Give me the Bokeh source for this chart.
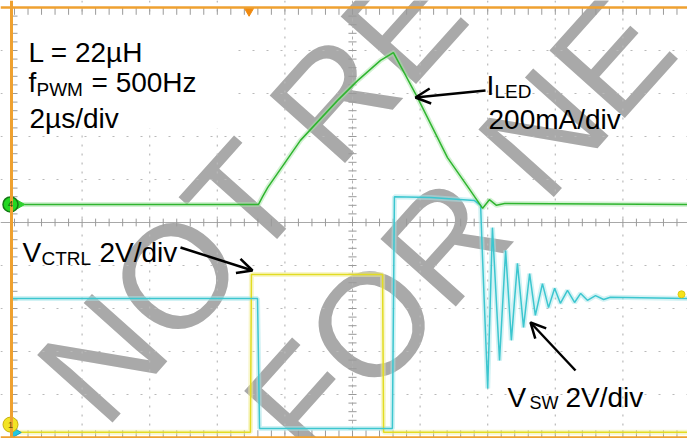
import numpy as np
from bokeh.plotting import figure
from bokeh.models import Label, Arrow, OpenHead, Span, BoxAnnotation
from bokeh.embed import file_html
from bokeh.resources import INLINE

# ---------------- data (time in µs, 2 µs/div; vertical in screen divisions) ----------------
led_t = [-10.1, -2.78, -2.66, -2.51, -1.54, -0.44, 0.15, 0.83, 1.21, 1.92, 2.81, 3.49,
         3.85, 4.05, 4.26, 4.50, 10.0]
led_y = [0.42, 0.42, 0.60, 0.81, 1.91, 2.84, 3.30, 3.77, 3.95, 2.91, 1.51, 0.74,
         0.33, 0.53, 0.40, 0.44, 0.42]

sw_t = [-10.1, -2.81, -2.75, 1.18, 1.24, 2.31, 3.61, 3.79, 3.85, 4.00, 4.14, 4.35, 4.53,
        4.70, 4.88, 5.06, 5.24, 5.41, 5.62, 5.80, 5.98, 6.15, 6.36, 6.57, 6.75, 6.95,
        7.19, 7.43, 7.63, 10.0]
sw_y = [-1.77, -1.77, -4.79, -4.79, 0.60, 0.58, 0.51, 0.40, -0.88, -3.86, -0.12, -3.21, -0.65,
        -2.74, -0.95, -2.44, -1.19, -2.16, -1.42, -1.98, -1.53, -1.88, -1.58, -1.86, -1.65, -1.81,
        -1.70, -1.79, -1.74, -1.77]

ctrl_t = [-10.1, -3.02, -2.99, 0.89, 0.92, 10.0]
ctrl_y = [-4.88, -4.88, -1.21, -1.21, -4.88, -4.88]

# channel ground markers (level in divisions) and trigger settings
led_marker_level = [0.42]
ctrl_marker_level = [-4.70]
trigger_time = [-3.06]
trigger_level = [-1.67]

major_t = [-8, -6, -4, -2, 2, 4, 6, 8]
major_y = [-4, -3, -2, -1, 1, 2, 3, 4]


# helpers: reference-pixel position -> data coordinates (for annotations only)
def tx(px):
    return (px - 352) / 33.8


def ty(py):
    return (222 - py) / 43.0


FONT = "Liberation Sans"
GREEN = "#2fb52f"
CYAN = "#3cc6cf"
YELLOW = "#e2dc22"
ORANGE = "#efa130"
GRID = "#b9b9b9"

p = figure(width=687, height=438, x_range=(tx(0), tx(687)), y_range=(ty(438), ty(0)),
           output_backend="svg", toolbar_location=None,
           x_axis_location=None, y_axis_location=None, min_border=0,
           background_fill_color="white", border_fill_color="white",
           outline_line_color=None)
p.xgrid.visible = False
p.ygrid.visible = False

# watermark
for txt, ax, ay in [("NOT RE", 66, 397), ("FOR NE", 273, 433)]:
    p.add_layout(Label(x=tx(ax), y=ty(ay), text=txt, angle=0.84, angle_units="rad",
                       text_font=FONT, text_font_style="normal", text_font_size="147px",
                       text_color="#a9a9a9", text_align="left", text_baseline="alphabetic",
                       level="underlay"))

# dotted graticule
for yv in major_y:
    p.add_layout(Span(location=yv, dimension="width", line_color=GRID, line_width=1.2,
                      line_dash="2 12", level="underlay"))
for tv in major_t:
    p.add_layout(Span(location=tv, dimension="height", line_color=GRID, line_width=1.2,
                      line_dash="2 7", level="underlay"))

# centre cross
p.add_layout(Span(location=0, dimension="width", line_color="#a8a8a8", line_width=1,
                  level="underlay"))
p.add_layout(Span(location=0, dimension="height", line_color="#b0b0b0", line_width=1,
                  line_dash="3 3", level="underlay"))

tt = np.round(np.arange(-10, 10.01, 0.4), 2)
yy = np.round(np.arange(-5, 5.01, 0.2), 2)
tick_c = "#9a9a9a"
p.segment(x0=tt, x1=tt, y0=-0.09, y1=0.09, line_color=tick_c, line_width=1)
p.segment(x0=-0.12, x1=0.12, y0=yy, y1=yy, line_color=tick_c, line_width=1)
# border ticks
p.segment(x0=tt, x1=tt, y0=5.0, y1=5.0 - 0.17, line_color=tick_c, line_width=1)
p.segment(x0=tt, x1=tt, y0=-5.0, y1=-5.0 + 0.17, line_color=tick_c, line_width=1)
p.segment(x0=tx(11), x1=tx(17), y0=yy, y1=yy, line_color=tick_c, line_width=1)

# white box behind the settings text
p.add_layout(BoxAnnotation(left=tx(19), right=tx(228), top=ty(17), bottom=ty(128),
                           fill_color="white", fill_alpha=1, line_color=None, level="underlay"))

# orange screen border
p.add_layout(Span(location=tx(11), dimension="height", line_color=ORANGE, line_width=3))
p.add_layout(Span(location=ty(7), dimension="width", line_color=ORANGE, line_width=2.5))
p.add_layout(Span(location=ty(437), dimension="width", line_color=ORANGE, line_width=2.5))

# traces (persistence glow + trace)
p.line(ctrl_t, ctrl_y, line_color="#f2ee9a", line_width=5, line_alpha=0.5)
p.line(sw_t, sw_y, line_color="#a6e6ea", line_width=5, line_alpha=0.5)
p.line(led_t, led_y, line_color="#a8e4a8", line_width=5, line_alpha=0.5)
p.line(ctrl_t, ctrl_y, line_color=YELLOW, line_width=1.5)
p.line(sw_t, sw_y, line_color=CYAN, line_width=1.5)
p.line(led_t, led_y, line_color=GREEN, line_width=1.5)

# channel / trigger markers
p.scatter([tx(19)], led_marker_level, marker="triangle", angle=-np.pi / 2, size=9,
          fill_color="#2ed12e", line_color="#2ed12e")
p.scatter([tx(10)], led_marker_level, marker="circle", size=15,
          fill_color="#22d822", line_color="#147a14", line_width=1.5)
p.scatter([tx(15)], [ty(432)], marker="triangle", angle=-np.pi / 2, size=10,
          fill_color="#22c8e0", line_color="#1a9fc0")
p.scatter([tx(10)], ctrl_marker_level, marker="circle", size=15,
          fill_color="#f2e424", line_color="#c8b010", line_width=1)
p.scatter(trigger_time, [ty(10)], marker="inverted_triangle", size=10,
          fill_color="#f08a10", line_color="#f08a10")
p.scatter([tx(681)], trigger_level, marker="circle", size=7,
          fill_color="#f5e21a", line_color="#e0c810")
p.add_layout(Label(x=tx(10), y=led_marker_level[0], text="4", text_font=FONT,
                   text_font_size="9px", text_color="#0b4d0b", text_align="center",
                   text_baseline="middle"))
p.add_layout(Label(x=tx(10), y=ctrl_marker_level[0], text="1", text_font=FONT,
                   text_font_size="9px", text_color="#6b5a00", text_align="center",
                   text_baseline="middle"))

# annotation texts
texts = [
    ("L = 22µH", 28, 52, 28),
    ("f", 28, 82, 28),
    ("PWM", 36, 89, 19),
    ("= 500Hz", 91, 82, 28),
    ("2µs/div", 29, 118, 28),
    ("I", 486, 85, 28),
    ("LED", 494, 91, 19),
    ("200mA/div", 488, 119, 28),
    ("V", 22, 252, 28),
    ("CTRL", 41, 258, 19),
    ("2V/div", 99, 252, 28),
    ("V", 507, 397, 28),
    ("SW", 529, 402, 18),
    ("2V/div", 565, 397, 28),
]
for s, px, py, fs in texts:
    p.add_layout(Label(x=tx(px), y=ty(py), text=s, text_font=FONT,
                       text_font_size=f"{fs}px", text_color="black",
                       text_align="left", text_baseline="alphabetic"))

# arrows
for (x0, y0, x1, y1) in [(485, 90, 415, 97), (180, 247, 252, 270), (575, 370, 530, 322)]:
    p.add_layout(Arrow(end=OpenHead(size=15, line_width=2.5, line_color="black"),
                       x_start=tx(x0), y_start=ty(y0), x_end=tx(x1), y_end=ty(y1),
                       line_width=2.5, line_color="black"))

open("out.html", "w").write(file_html(p, INLINE))
